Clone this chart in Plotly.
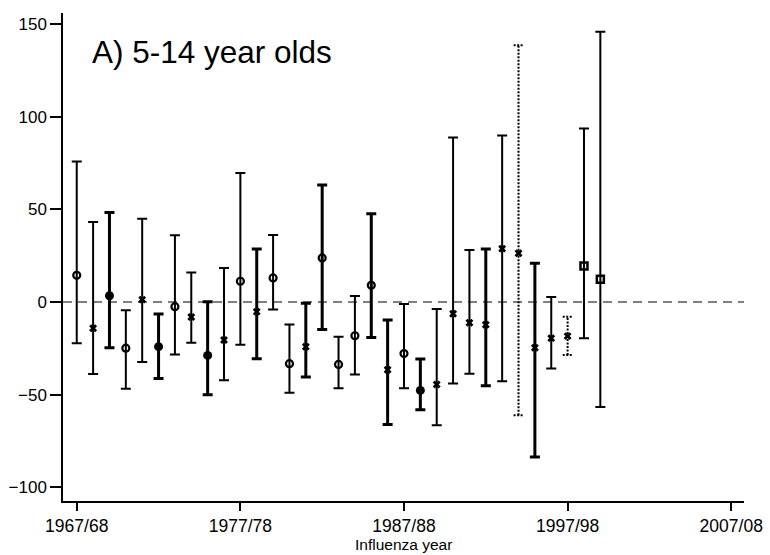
import plotly.graph_objects as go

# Influenza seasons (start year of each season)
years = list(range(1967, 2000))

# Point estimates and confidence limits
estimate = [14.4, -14.2, 3.4, -24.9, 1.3, -24.1, -2.5, -8.1, -28.8, -20.5,
            11.2, -5.2, 13.0, -33.3, -24.1, 23.8, -33.7, -18.2, 9.0, -36.6,
            -27.8, -47.7, -44.5, -6.3, -11.2, -12.3, 28.8, 26.3, -24.7, -19.5,
            -18.4, 19.5, 12.3]
upper = [75.8, 43.2, 48.3, -4.5, 44.9, -6.5, 36.0, 16.0, 0.2, 18.4,
         69.7, 28.6, 36.2, -12.1, -0.7, 63.2, -18.7, 3.2, 47.6, -9.7,
         -1.1, -30.8, -3.8, 88.8, 28.1, 28.6, 89.9, 138.6, 20.9, 2.7,
         -7.9, 93.7, 145.9]
lower = [-22.3, -38.9, -24.7, -46.8, -32.4, -41.3, -28.3, -22.0, -50.1, -42.2,
         -23.1, -30.6, -4.0, -49.0, -40.5, -14.8, -46.5, -39.1, -19.1, -66.1,
         -46.5, -58.2, -66.5, -44.0, -38.7, -45.2, -42.7, -61.1, -83.6, -35.9,
         -28.6, -19.5, -56.6]

# Marker kind per season
marker_kind = ["o", "x", "f", "o", "x", "f", "o", "x", "f", "x",
               "o", "x", "o", "o", "x", "o", "o", "o", "o", "x",
               "o", "f", "x", "x", "x", "x", "x", "x", "x", "x",
               "x", "s", "s"]
# Interval line style per season
line_kind = ["thin", "thin", "thick", "thin", "thin", "thick", "thin", "thin", "thick", "thin",
             "thin", "thick", "thin", "thin", "thick", "thick", "thin", "thin", "thick", "thick",
             "thin", "thick", "thin", "thin", "thin", "thick", "thin", "dot", "thick", "thin",
             "dot", "thin", "thin"]

tick_years = [1967, 1977, 1987, 1997, 2007]
tick_labels = ["1967/68", "1977/78", "1987/88", "1997/98", "2007/08"]
y_ticks = [-100, -50, 0, 50, 100, 150]

marker_styles = {
    "o": dict(symbol="circle-open", size=7, line=dict(width=2.2, color="black")),
    "f": dict(symbol="circle", size=9, line=dict(width=0)),
    "x": dict(symbol="x", size=7, line=dict(width=0)),
    "s": dict(symbol="square-open", size=7, line=dict(width=2.5, color="black")),
}
line_widths = {"thin": 2, "thick": 3}

fig = go.Figure()

# Dotted intervals drawn as dotted line segments with dotted caps
cap = 0.3
dx, dy = [], []
for yr, lo, hi, lk in zip(years, lower, upper, line_kind):
    if lk != "dot":
        continue
    dx += [yr, yr, None, yr - cap, yr + cap, None, yr - cap, yr + cap, None]
    dy += [lo, hi, None, hi, hi, None, lo, lo, None]
fig.add_trace(go.Scatter(x=dx, y=dy, mode="lines", hoverinfo="skip",
                         line=dict(color="black", width=2, dash="2px,1.5px")))

# Intervals grouped by line weight and marker kind
for lk in ["thin", "thick", "dot"]:
    for mk in ["o", "f", "x", "s"]:
        idx = [i for i in range(len(years)) if line_kind[i] == lk and marker_kind[i] == mk]
        if not idx:
            continue
        xs = [years[i] for i in idx]
        ys = [estimate[i] for i in idx]
        err = dict(type="data", symmetric=False,
                   array=[upper[i] - estimate[i] for i in idx],
                   arrayminus=[estimate[i] - lower[i] for i in idx],
                   color="black", thickness=line_widths.get(lk, 2), width=5,
                   visible=(lk != "dot"))
        fig.add_trace(go.Scatter(x=xs, y=ys, mode="markers",
                                 marker=dict(color="black", **marker_styles[mk]),
                                 error_y=err, hoverinfo="skip"))

# Reference line at zero
fig.add_shape(type="line", xref="paper", x0=0, x1=1, yref="y", y0=0, y1=0,
              line=dict(color="#808080", width=2, dash="9px,6px"), layer="below")

fig.add_annotation(text="A) 5-14 year olds", xref="paper", yref="paper",
                   x=0.039, y=0.92, xanchor="left", yanchor="middle",
                   showarrow=False, font=dict(size=31.5, color="black"))

# Horizontal axis title, sitting at the bottom edge of the figure
fig.add_annotation(text="Influenza year", xref="paper", yref="paper",
                   x=0.5, y=-0.109, xanchor="center", yanchor="bottom",
                   showarrow=False, borderpad=0,
                   font=dict(size=15.5, color="black"))

family = "Liberation Sans, Arial, sans-serif"
fig.update_layout(
    width=770, height=555,
    margin=dict(l=63, r=26, t=13, b=54),
    paper_bgcolor="white", plot_bgcolor="white",
    showlegend=False,
    font=dict(family=family, color="black"),
    xaxis=dict(range=[1966.16, 2007.78], tickvals=tick_years, ticktext=tick_labels,
               automargin=False,
               showgrid=False, zeroline=False, showline=True, linecolor="black",
               linewidth=1.5, ticks="outside", ticklen=8, tickwidth=1.5,
               tickcolor="black", tickfont=dict(family=family, size=17.5, color="black")),
    yaxis=dict(range=[-107.4, 156], tickvals=y_ticks, automargin=False,
               showgrid=False, zeroline=False, showline=True, linecolor="black",
               linewidth=1.5, ticks="outside", ticklen=11, tickwidth=1.5,
               tickcolor="black", tickfont=dict(family=family, size=17, color="black")),
)

fig.write_html("out.html")
